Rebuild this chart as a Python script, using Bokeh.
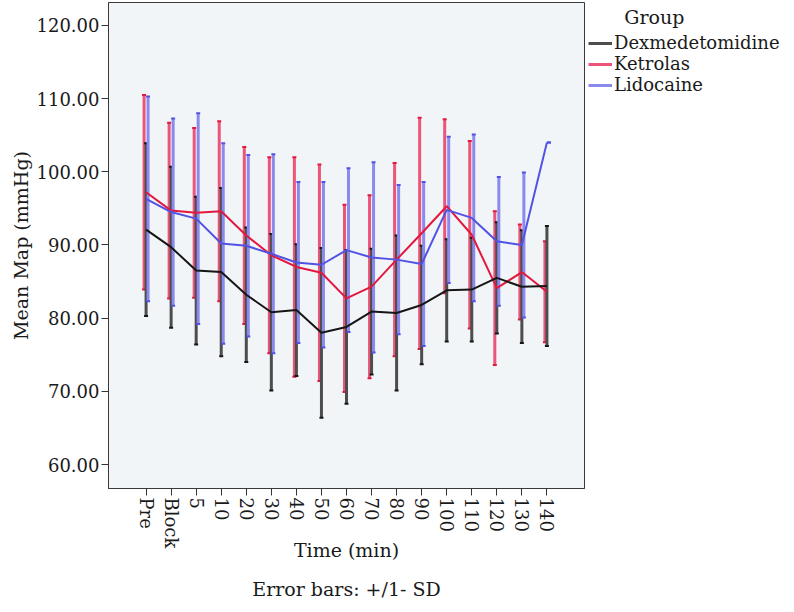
from bokeh.plotting import figure
from bokeh.models import (FactorRange, Range1d, Legend, LegendItem, Title,
                          ColumnDataSource, FixedTicker, PrintfTickFormatter)
from bokeh.transform import dodge
from bokeh.embed import file_html
from bokeh.resources import INLINE
import numpy as np

# ---------------- data ----------------
times = ["Pre", "Block", "5", "10", "20", "30", "40", "50", "60", "70",
         "80", "90", "100", "110", "120", "130", "140"]

dex_mean = [92.1, 89.7, 86.5, 86.3, 83.2, 80.8, 81.1, 78.0, 78.8, 80.9,
            80.7, 81.8, 83.8, 83.9, 85.5, 84.3, 84.4]
dex_sd = [11.8, 11.0, 10.1, 11.5, 9.2, 10.7, 9.0, 11.6, 10.5, 8.6,
          10.6, 8.1, 7.0, 7.1, 7.6, 7.7, 8.2]

ket_mean = [97.2, 94.7, 94.4, 94.6, 91.3, 88.6, 87.0, 86.2, 82.7, 84.3,
            88.0, 91.6, 95.3, 91.4, 84.1, 86.3, 83.6]
ket_sd = [13.3, 12.0, 11.6, 12.3, 12.1, 13.4, 15.0, 14.8, 12.8, 12.5,
          13.2, 15.8, 11.9, 12.8, 10.5, 6.5, 6.9]

lid_mean = [96.3, 94.5, 93.6, 90.2, 89.9, 88.8, 87.6, 87.3, 89.3, 88.3,
            88.0, 87.4, 94.8, 93.7, 90.5, 90.0, 104.0]
lid_sd = [14.0, 12.8, 14.4, 13.7, 12.4, 13.6, 11.0, 11.3, 11.2, 13.0,
          10.2, 11.2, 10.0, 11.4, 8.8, 9.9, 0.0]

groups = ["Dexmedetomidine", "Ketrolas", "Lidocaine"]
y_ticks = [60, 70, 80, 90, 100, 110, 120]

# ---------------- styling ----------------
FONT = "DejaVu Serif"
line_colors = {"Dexmedetomidine": "#161616", "Ketrolas": "#e2183f", "Lidocaine": "#5252e4"}
bar_colors = {"Dexmedetomidine": "#4d4d4d", "Ketrolas": "#ea5579", "Lidocaine": "#8a8aee"}
offsets = {"Dexmedetomidine": 0.0, "Ketrolas": -0.08, "Lidocaine": 0.08}

p = figure(x_range=FactorRange(factors=times, range_padding=1.0,
                               range_padding_units="absolute"),
           y_range=Range1d(56.72, 123.14),
           frame_width=476, frame_height=486,
           min_border_left=108, min_border_top=2, min_border_right=0,
           min_border_bottom=0,
           output_backend="svg", toolbar_location=None)

p.background_fill_color = "#f2f5f7"
p.border_fill_color = "white"
p.outline_line_color = "#3a3a3a"
p.outline_line_width = 1
p.grid.visible = False

series = {
    "Dexmedetomidine": (dex_mean, dex_sd),
    "Ketrolas": (ket_mean, ket_sd),
    "Lidocaine": (lid_mean, lid_sd),
}

bar_renderers = {}
for g in ["Ketrolas", "Dexmedetomidine", "Lidocaine"]:
    m, s = series[g]
    m = np.array(m)
    s = np.array(s)
    src = ColumnDataSource(dict(t=times, mean=m, lo=m - s, hi=m + s))
    xd = dodge("t", offsets[g], range=p.x_range)
    r = p.segment(x0=xd, y0="lo", x1=xd, y1="hi", source=src,
                  line_color=bar_colors[g], line_width=3)
    p.scatter(x=xd, y="hi", source=src, marker="dash", size=4,
              line_color=line_colors[g], line_width=2)
    p.scatter(x=xd, y="lo", source=src, marker="dash", size=4,
              line_color=line_colors[g], line_width=2)
    bar_renderers[g] = r

for g in ["Ketrolas", "Lidocaine", "Dexmedetomidine"]:
    m, s = series[g]
    p.line(x=times, y=m, line_color=line_colors[g], line_width=2)

# axes
p.yaxis.ticker = FixedTicker(ticks=y_ticks)
p.yaxis.formatter = PrintfTickFormatter(format="%.2f")
p.yaxis.minor_tick_line_color = None
p.yaxis.axis_label = "Mean Map (mmHg)"
p.yaxis.axis_label_standoff = 2

p.xaxis.axis_label = "Time (min)"
p.xaxis.major_label_orientation = "vertical"
p.xaxis.axis_label_standoff = -12

for ax in [p.xaxis, p.yaxis]:
    ax.major_label_text_font = FONT
    ax.major_label_text_font_size = "18px"
    ax.major_label_text_color = "#1a1a1a"
    ax.axis_label_text_font = FONT
    ax.axis_label_text_font_size = "19px"
    ax.axis_label_text_font_style = "normal"
    ax.axis_label_text_color = "#1a1a1a"
    ax.major_tick_out = 7
    ax.major_tick_in = 0
    ax.major_tick_line_color = "#333333"
    ax.axis_line_color = "#3a3a3a"
    ax.major_label_standoff = 2

legend = Legend(items=[LegendItem(label=g, renderers=[bar_renderers[g]]) for g in groups],
                title="\u00a0\u00a0\u00a0\u00a0\u00a0\u00a0Group", location="top_left")
legend.label_text_font = FONT
legend.label_text_font_size = "18px"
legend.label_text_line_height = 0.9
legend.label_text_color = "#1a1a1a"
legend.title_text_font = FONT
legend.title_text_font_size = "19px"
legend.title_text_font_style = "normal"
legend.title_text_color = "#1a1a1a"
legend.border_line_color = None
legend.background_fill_alpha = 0
legend.glyph_width = 24
legend.glyph_height = 16
legend.label_height = 16
legend.label_standoff = 2
legend.spacing = 0
legend.padding = 0
legend.margin = 4
legend.title_standoff = 4
p.add_layout(legend, "right")

note = Title(text="Error bars: +/1- SD", align="center", text_font=FONT,
             text_font_size="19px", text_font_style="normal", text_color="#1a1a1a",
             standoff=22)
p.add_layout(note, "below")

open("out.html", "w").write(file_html(p, INLINE))
